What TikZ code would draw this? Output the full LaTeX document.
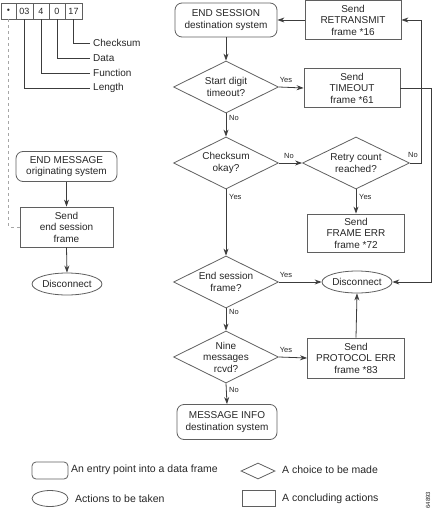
\documentclass[tikz,border=0pt]{standalone}
\usepackage{fontspec}
\setmainfont{Liberation Sans}
\usetikzlibrary{shapes.geometric,arrows.meta}
\definecolor{linec}{RGB}{60,60,60}
\definecolor{boxc}{RGB}{95,95,95}
\begin{document}
\begin{tikzpicture}[x=1pt,y=-1pt,
  every node/.style={font=\fontsize{10}{11.5}\selectfont, align=center, text=black!85},
  entry/.style={draw=boxc, line width=0.8pt, rounded corners=7pt, inner sep=0pt, minimum width=#1, minimum height=34pt},
  act/.style={draw=boxc, line width=0.8pt, ellipse, inner sep=0pt, minimum width=69pt, minimum height=22pt},
  dec/.style={draw=boxc, line width=0.8pt, diamond, inner sep=0pt, minimum width=#1, minimum height=52pt},
  stepbox/.style={draw=boxc, line width=0.8pt, rectangle, inner sep=0pt, minimum width=97pt, minimum height=39pt},
  cell/.style={draw=boxc, line width=0.6pt, rectangle, inner sep=0pt, minimum width=#1, minimum height=16pt, font=\fontsize{9}{10}\selectfont},
  yn/.style={font=\fontsize{7.5}{8}\selectfont, inner sep=1pt},
  ln/.style={draw=linec, line width=0.8pt},
  arr/.style={ln, -{Stealth[length=7pt,width=5pt]}},
  lab/.style={anchor=west, inner sep=3pt},
  leg/.style={anchor=west, font=\fontsize{10.5}{12}\selectfont, inner sep=0pt}
]
\useasboundingbox (0,0) rectangle (433,508);

% ---- frame cells
\node[cell=15pt] (c1) at (8.5,11) {\raisebox{1pt}{\tiny$\bullet$}};
\node[cell=17pt] (c2) at (24.5,11) {03};
\node[cell=16pt] (c3) at (41,11) {4};
\node[cell=16pt] (c4) at (57,11) {0};
\node[cell=17pt] (c5) at (73.5,11) {17};
\node[lab] (lchk) at (90,43) {Checksum};
\node[lab] (ldat) at (90,58) {Data};
\node[lab] (lfun) at (90,73) {Function};
\node[lab] (llen) at (90,88) {Length};
\draw[ln, line width=0.6pt] (c5.south) |- (lchk.west);
\draw[ln, line width=0.6pt] (c4.south) |- (ldat.west);
\draw[ln, line width=0.6pt] (c3.south) |- (lfun.west);
\draw[ln, line width=0.6pt] (c2.south) |- (llen.west);

% ---- left column
\node[entry=101pt, minimum height=30pt] (em) at (66.5,166.5) {END MESSAGE\\originating system};
\node[stepbox, minimum width=93pt, minimum height=40pt] (sf) at (66.5,227) {Send\\end session\\frame};
\node[act] (ld) at (67,284) {Disconnect};
\draw[arr] (em.south) -- (sf.north);
\draw[arr] (sf.south) -- (ld.north);
\draw[draw=gray!70, line width=0.8pt, dash pattern=on 3pt off 3pt] (c1.south) |- (sf.west);

% ---- right part
\node[entry=102pt] (es) at (226,20) {END SESSION\\destination system};
\node[stepbox, minimum width=96pt] (rt) at (353,20) {Send\\RETRANSMIT\\frame *16};
\node[dec=105pt] (d1) at (226,87) {};
\node at (d1) {Start digit\\timeout?};
\node[stepbox, minimum width=96pt] (to) at (352,88) {Send\\TIMEOUT\\frame *61};
\node[dec=105pt] (d2) at (226,163) {};
\node at (d2) {Checksum\\okay?};
\node[dec=107pt] (d3) at (356,163) {};
\node at (d3) {Retry count\\reached?};
\node[stepbox, minimum height=38pt] (fe) at (356,233) {Send\\FRAME ERR\\frame *72};
\node[dec=105pt] (d4) at (226,282) {};
\node at (d4) {End session\\frame?};
\node[act] (dis) at (357,282) {Disconnect};
\node[dec=105pt] (d5) at (226,357) {};
\node at (d5) {Nine\\messages\\rcvd?};
\node[stepbox, minimum height=40pt] (pe) at (356,358) {Send\\PROTOCOL ERR\\frame *83};
\node[entry=100pt, minimum height=35pt] (mi) at (227,422) {MESSAGE INFO\\destination system};

\coordinate (r1) at (421,0);
\coordinate (r2) at (431,0);

\draw[arr] (rt.west) -- (es.east);
\draw[arr] (es.south) -- (d1.north);
\draw[arr] (d1.east) -- (to.west);
\node[yn] at (286,80) {Yes};
\draw[arr] (d1.south) -- (d2.north);
\node[yn, anchor=west] at (228,118) {No};
\draw[arr] (d2.east) -- (d3.west);
\node[yn] at (289,156) {No};
\draw[arr] (d3.east) -- (d3.east -| r1) -- (r1 |- rt.east) -- (rt.east);
\node[yn] at (413,155) {No};
\draw[arr] (to.east) -- (to.east -| r2) -- (r2 |- dis.east) -- (dis.east);
\draw[arr] (d3.south) -- (fe.north);
\node[yn, anchor=west] at (358,197) {Yes};
\draw[arr] (d2.south) -- (d4.north);
\node[yn, anchor=west] at (228,197) {Yes};
\draw[arr] (d4.east) -- (dis.west);
\node[yn] at (286,275) {Yes};
\draw[arr] (d4.south) -- (d5.north);
\node[yn, anchor=west] at (228,312) {No};
\draw[arr] (d5.east) -- (pe.west);
\node[yn] at (286,350) {Yes};
\draw[arr] (pe.north) -- (dis.south);
\draw[arr] (d5.south) -- (mi.north);
\node[yn, anchor=west] at (228,390) {No};

% ---- legend
\node[draw=boxc, line width=0.8pt, rounded corners=4pt, minimum width=36pt, minimum height=17pt, inner sep=0pt] (lg1) at (50,470.5) {};
\node[leg] (lt1) at (71,470) {An entry point into a data frame};
\node[draw=boxc, line width=0.8pt, diamond, inner sep=0pt, minimum width=34pt, minimum height=16pt] (lg2) at (258,471) {};
\node[leg] (lt2) at (282,470) {A choice to be made};
\node[draw=boxc, line width=0.8pt, ellipse, inner sep=0pt, minimum width=36pt, minimum height=16pt] (lg3) at (50,498.5) {};
\node[leg] (lt3) at (75,498.5) {Actions to be taken};
\node[draw=boxc, line width=0.8pt, rectangle, inner sep=0pt, minimum width=33pt, minimum height=16pt] (lg4) at (258.5,498.5) {};
\node[leg] (lt4) at (282,498.5) {A concluding actions};

\node[rotate=90, font=\fontsize{6}{7}\selectfont, inner sep=0pt] (fig) at (428,500) {64893};
\end{tikzpicture}
\end{document}
